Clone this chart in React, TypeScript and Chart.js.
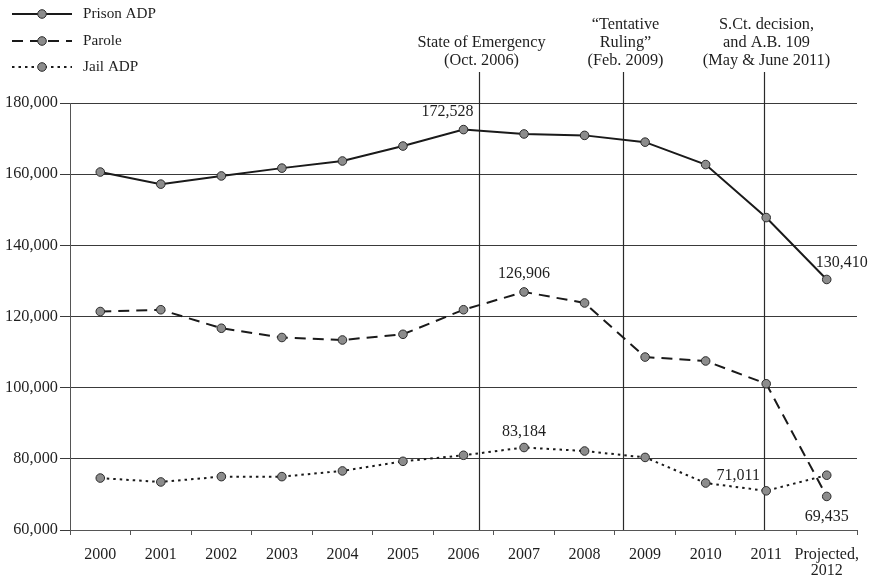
import React, { useEffect, useRef } from 'react';
import { Chart, registerables } from 'chart.js';

Chart.register(...registerables);

// ---- Data ----
const categories: (string | string[])[] = [
  '2000', '2001', '2002', '2003', '2004', '2005', '2006',
  '2007', '2008', '2009', '2010', '2011', ['Projected,', '2012'],
];
const prisonADP = [160600, 157200, 159500, 161700, 163700, 167900, 172528, 171300, 170900, 169000, 162700, 147800, 130410];
const parole = [121400, 121900, 116700, 114100, 113400, 115000, 121900, 126906, 123800, 108600, 107500, 101100, 69435];
const jailADP = [74600, 73500, 75000, 75000, 76600, 79300, 81000, 83184, 82200, 80400, 73200, 71011, 75400];
const seriesNames = ['Prison ADP', 'Parole', 'Jail ADP'];
const yMin = 60000;
const yMax = 180000;
const yStep = 20000;
// event dates as decimal years
const eventDates = [2006.75, 2009.13, 2011.47];
const eventLabels = [
  ['State of Emergency', '(Oct. 2006)'],
  ['\u201CTentative', 'Ruling\u201D', '(Feb. 2009)'],
  ['S.Ct. decision,', 'and A.B. 109', '(May & June 2011)'],
];
// annotated values: [seriesIndex, categoryIndex]
const annotatedPoints: [number, number][] = [
  [0, 6], [0, 12], [1, 7], [1, 12], [2, 7], [2, 11],
];

const FONT = '"Liberation Serif", "Times New Roman", serif';
const TEXT = '#1e1e1e';
const dashes = [[], [11, 7], [2.5, 4]];

const fmt = (v: number) => v.toLocaleString('en-US');

export default function App() {
  const ref = useRef<HTMLCanvasElement | null>(null);

  useEffect(() => {
    if (!ref.current) return;
    const seriesData = [prisonADP, parole, jailADP];

    const decorPlugin = {
      id: 'decor',
      beforeDatasetsDraw(chart: any) {
        const ctx = chart.ctx;
        const x = chart.scales.x;
        const y = chart.scales.y;
        ctx.save();
        ctx.strokeStyle = '#2a2a2a';
        ctx.lineWidth = 1.2;
        ctx.font = `16.3px ${FONT}`;
        ctx.fillStyle = TEXT;
        ctx.textAlign = 'center';
        ctx.textBaseline = 'middle';
        eventDates.forEach((d, i) => {
          const px = Math.round(x.getPixelForValue(d - 2000 - 0.5)) + 0.5;
          ctx.beginPath();
          ctx.moveTo(px, 72);
          ctx.lineTo(px, y.bottom);
          ctx.stroke();
          const lines = eventLabels[i];
          lines.forEach((t, j) => {
            const ly = 61 - (lines.length - 1 - j) * 18;
            ctx.fillText(t, px + 2, ly);
          });
        });
        ctx.restore();
      },
      afterDatasetsDraw(chart: any) {
        const ctx = chart.ctx;
        ctx.save();
        ctx.font = `16px ${FONT}`;
        ctx.fillStyle = TEXT;
        ctx.textAlign = 'center';
        ctx.textBaseline = 'middle';
        const offsets: Record<string, [number, number]> = {
          '0-6': [-16, -18], '0-12': [15, -17], '1-7': [0, -18],
          '1-12': [0, 20], '2-7': [0, -16], '2-11': [-28, -15],
        };
        annotatedPoints.forEach(([s, i]) => {
          const el = chart.getDatasetMeta(s).data[i];
          const off = offsets[`${s}-${i}`] || [0, -17];
          ctx.fillText(fmt(seriesData[s][i]), el.x + off[0], el.y + off[1]);
        });
        // legend
        ctx.font = `15.2px ${FONT}`;
        seriesNames.forEach((name, k) => {
          const ly = [14, 41, 67][k];
          ctx.strokeStyle = '#1a1a1a';
          ctx.lineWidth = 2;
          ctx.setLineDash(dashes[k]);
          ctx.beginPath();
          ctx.moveTo(12, ly);
          ctx.lineTo(72, ly);
          ctx.stroke();
          ctx.setLineDash([]);
          ctx.beginPath();
          ctx.arc(42, ly, 4.3, 0, Math.PI * 2);
          ctx.fillStyle = '#8c8c8c';
          ctx.fill();
          ctx.lineWidth = 1;
          ctx.strokeStyle = '#2a2a2a';
          ctx.stroke();
          ctx.fillStyle = TEXT;
          ctx.textAlign = 'left';
          ctx.fillText(name, 83, ly);
        });
        ctx.restore();
      },
    };

    const mk = (label: string, data: number[], k: number) => ({
      label,
      data,
      borderColor: '#1a1a1a',
      borderWidth: 2,
      borderDash: dashes[k],
      pointRadius: 4.3,
      pointBackgroundColor: '#8c8c8c',
      pointBorderColor: '#2a2a2a',
      pointBorderWidth: 1,
      tension: 0,
      fill: false,
    });

    const chart = new Chart(ref.current, {
      type: 'line',
      data: {
        labels: categories as any,
        datasets: [
          mk(seriesNames[0], prisonADP, 0),
          mk(seriesNames[1], parole, 1),
          mk(seriesNames[2], jailADP, 2),
        ],
      },
      options: {
        responsive: false,
        animation: false,
        events: [],
        layout: { padding: { top: 103, right: 17, left: 0, bottom: 0 } },
        plugins: {
          legend: { display: false },
          tooltip: { enabled: false },
          title: { display: false },
        },
        scales: {
          x: {
            type: 'category',
            offset: true,
            grid: {
              offset: true,
              drawOnChartArea: false,
              drawTicks: true,
              tickLength: 5,
              color: '#555',
            },
            border: { display: true, color: '#555', width: 1 },
            ticks: {
              color: TEXT,
              font: { family: FONT, size: 16, lineHeight: 1.05 },
              padding: 11,
              maxRotation: 0,
              autoSkip: false,
            },
            afterFit(scale: any) { scale.height = 53; },
          },
          y: {
            min: yMin,
            max: yMax,
            grid: {
              color: '#3a3a3a',
              lineWidth: 1,
              drawTicks: true,
              tickLength: 10,
            },
            border: { display: true, color: '#555', width: 1 },
            ticks: {
              stepSize: yStep,
              color: TEXT,
              font: { family: FONT, size: 16.3 },
              padding: 2,
              callback: (v: any) => fmt(Number(v)),
            },
            afterFit(scale: any) { scale.width = 70; },
          },
        },
      },
      plugins: [decorPlugin],
    } as any);

    return () => chart.destroy();
  }, []);

  return (
    <div style={{ position: 'absolute', left: 0, top: 0, width: 874, height: 583, background: '#fff' }}>
      <canvas ref={ref} width={874} height={583} style={{ width: 874, height: 583, display: 'block' }} />
    </div>
  );
}
